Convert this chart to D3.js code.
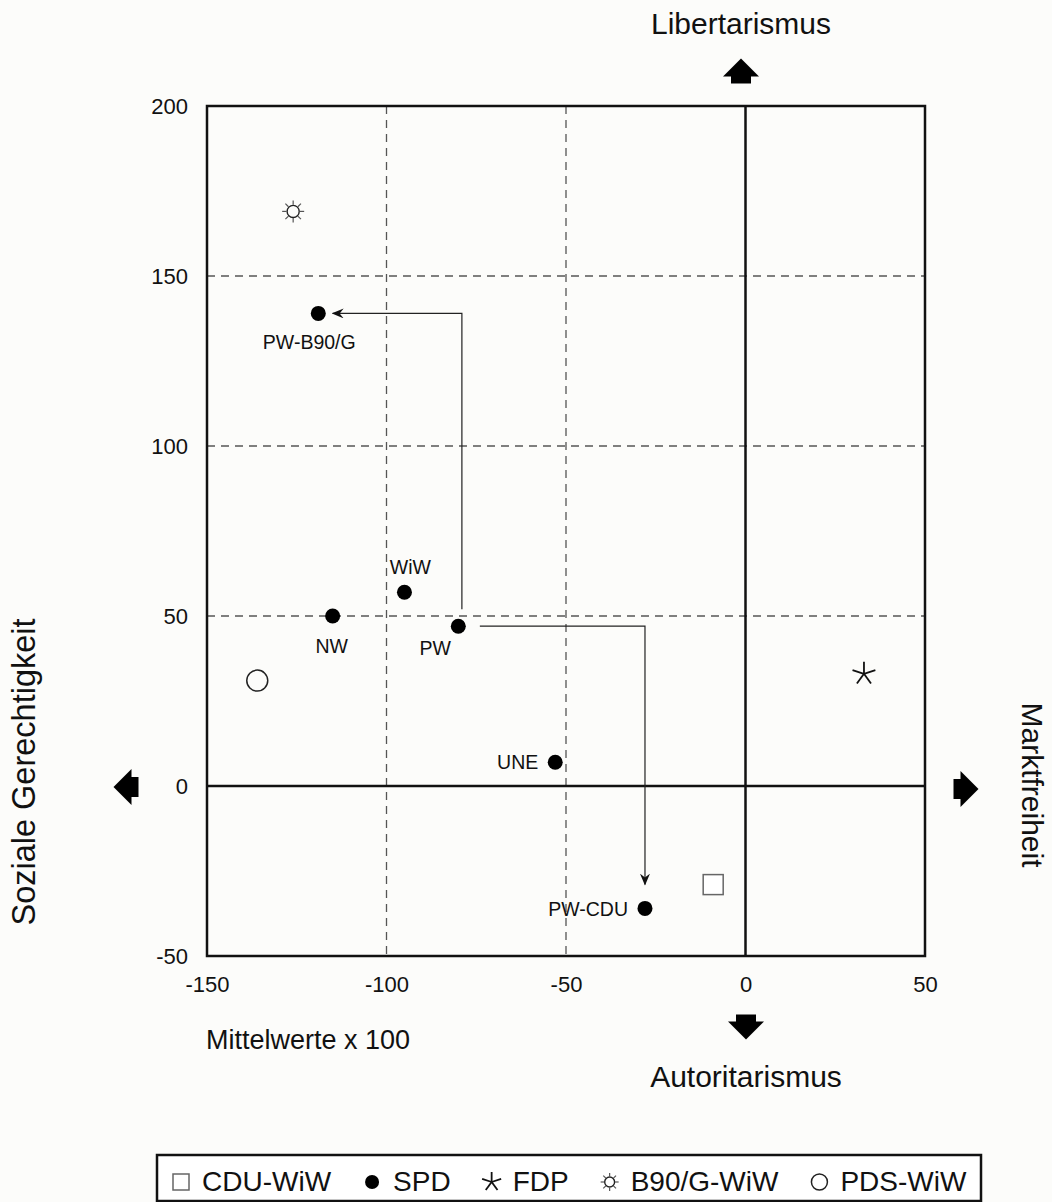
<!DOCTYPE html>
<html>
<head>
<meta charset="utf-8">
<title>Mittelwerte Parteien</title>
<script src="https://cdn.jsdelivr.net/npm/d3@7"></script>
<style>
  body { margin: 0; background: #fcfcfa; }
  svg { display: block; }
  text { font-family: "Liberation Sans", Arial, Helvetica, sans-serif; fill: #111; }
  .grid { stroke: #555; stroke-width: 1.3; stroke-dasharray: 8,6; }
</style>
</head>
<body>
<script>
// --- data (Mittelwerte x 100) ---
var spdLabels = ["PW-B90/G", "WiW", "NW", "PW", "UNE", "PW-CDU"];
var spdX = [-119, -95, -115, -80, -53, -28];
var spdY = [139, 57, 50, 47, 7, -36];

var partyNames = ["CDU-WiW", "SPD", "FDP", "B90/G-WiW", "PDS-WiW"];
var partyX = [-9, null, 33, -126, -136];
var partyY = [-29, null, 33, 169, 31];

// label placement relative to SPD points (pixels)
var labelDx = [-9, 6, -1, -23, -17, -17];
var labelDy = [36, -18, 37, 29, 7, 8];
var labelAnchor = ["middle", "middle", "middle", "middle", "end", "end"];

// shifts shown as elbow arrows, [x, y] in data units
var shiftPW_B90 = [[-79, 52], [-79, 139], [-115, 139]];
var shiftPW_CDU = [[-74, 47], [-28, 47], [-28, -29]];

var xTicks = [-150, -100, -50, 0, 50];
var yTicks = [-50, 0, 50, 100, 150, 200];

var width = 1052, height = 1202;

var svg = d3.select("body").append("svg").attr("width", width).attr("height", height);

var x = d3.scaleLinear().domain([-150, 50]).range([207, 925]);
var y = d3.scaleLinear().domain([-50, 200]).range([956, 106]);

// dashed grid
svg.selectAll(".gx").data([-100, -50]).enter().append("line")
    .attr("class", "grid")
    .attr("x1", d => x(d)).attr("x2", d => x(d)).attr("y1", y(200)).attr("y2", y(-50));
svg.selectAll(".gy").data([50, 100, 150]).enter().append("line")
    .attr("class", "grid")
    .attr("x1", x(-150)).attr("x2", x(50)).attr("y1", d => y(d)).attr("y2", d => y(d));

// zero lines + frame
svg.append("line").attr("x1", x(0)).attr("x2", x(0)).attr("y1", y(200)).attr("y2", y(-50))
    .attr("stroke", "#111").attr("stroke-width", 2.5);
svg.append("line").attr("x1", x(-150)).attr("x2", x(50)).attr("y1", y(0)).attr("y2", y(0))
    .attr("stroke", "#111").attr("stroke-width", 2.5);
svg.append("rect").attr("x", x(-150)).attr("y", y(200))
    .attr("width", x(50) - x(-150)).attr("height", y(-50) - y(200))
    .attr("fill", "none").attr("stroke", "#111").attr("stroke-width", 2.5);

// axes (plain hyphen for negatives, as in the original)
var fmt = d => String(d);
var yAxis = svg.append("g").attr("transform", "translate(" + x(-150) + ",0)")
    .call(d3.axisLeft(y).tickValues(yTicks).tickSize(0).tickPadding(19).tickFormat(fmt));
var xAxis = svg.append("g").attr("transform", "translate(0," + y(-50) + ")")
    .call(d3.axisBottom(x).tickValues(xTicks).tickSize(0).tickPadding(20).tickFormat(fmt));
[xAxis, yAxis].forEach(function (g) {
    g.select(".domain").remove();
    g.selectAll("text").attr("font-size", 22).attr("fill", "#111")
        .style("font-family", "'Liberation Sans', Arial, sans-serif");
});

// arrowhead
svg.append("defs").append("marker")
    .attr("id", "head").attr("viewBox", "0 0 12 10").attr("refX", 11).attr("refY", 5)
    .attr("markerWidth", 12).attr("markerHeight", 10).attr("markerUnits", "userSpaceOnUse")
    .attr("orient", "auto")
    .append("path").attr("d", "M0,0 L12,5 L0,10 L4,5 Z").attr("fill", "#111");

var elbow = d3.line().x(d => x(d[0])).y(d => y(d[1]));
[shiftPW_B90, shiftPW_CDU].forEach(function (p) {
    svg.append("path").attr("d", elbow(p)).attr("fill", "none")
        .attr("stroke", "#222").attr("stroke-width", 1.2).attr("marker-end", "url(#head)");
});

// symbol painters
function square(g, s) {
    g.append("rect").attr("x", -s / 2).attr("y", -s / 2).attr("width", s).attr("height", s)
        .attr("fill", "#fff").attr("stroke", "#666").attr("stroke-width", 1.5);
}
function dot(g, r) { g.append("circle").attr("r", r).attr("fill", "#000"); }
function ring(g, r) {
    g.append("circle").attr("r", r).attr("fill", "none").attr("stroke", "#222").attr("stroke-width", 1.5);
}
function star(g, r) {
    d3.range(5).forEach(function (i) {
        var a = -Math.PI / 2 + i * 2 * Math.PI / 5;
        g.append("line").attr("x1", 0).attr("y1", 0)
            .attr("x2", r * Math.cos(a)).attr("y2", r * Math.sin(a))
            .attr("stroke", "#111").attr("stroke-width", 1.8);
    });
}
function sun(g, r) {
    g.append("circle").attr("r", r * 0.55).attr("fill", "none").attr("stroke", "#222").attr("stroke-width", 1.4);
    d3.range(8).forEach(function (i) {
        var a = i * Math.PI / 4;
        g.append("line")
            .attr("x1", r * 0.6 * Math.cos(a)).attr("y1", r * 0.6 * Math.sin(a))
            .attr("x2", r * Math.cos(a)).attr("y2", r * Math.sin(a))
            .attr("stroke", "#555").attr("stroke-width", 1.2);
    });
}

// party points
var plotSym = [function (g) { square(g, 20); }, null, function (g) { star(g, 12); },
               function (g) { sun(g, 11); }, function (g) { ring(g, 10.5); }];
partyNames.forEach(function (n, i) {
    if (partyX[i] === null) return;
    var g = svg.append("g").attr("transform", "translate(" + x(partyX[i]) + "," + y(partyY[i]) + ")");
    plotSym[i](g);
});

// SPD points
var spd = svg.selectAll(".spd").data(spdLabels).enter().append("g")
    .attr("class", "spd")
    .attr("transform", (d, i) => "translate(" + x(spdX[i]) + "," + y(spdY[i]) + ")");
spd.append("circle").attr("r", 7.5).attr("fill", "#000");
spd.append("text").text(d => d)
    .attr("x", (d, i) => labelDx[i]).attr("y", (d, i) => labelDy[i])
    .attr("text-anchor", (d, i) => labelAnchor[i]).attr("font-size", 19.5);

// direction arrows
var blockPts = [[0, -12.5], [18, 5.5], [10, 5.5], [10, 12.5], [-10, 12.5], [-10, 5.5], [-18, 5.5]];
function block(cx, cy, rot) {
    svg.append("polygon").attr("points", blockPts.map(p => p.join(",")).join(" "))
        .attr("transform", "translate(" + cx + "," + cy + ") rotate(" + rot + ")").attr("fill", "#000");
}
block(741, 71, 0);
block(746, 1027, 180);
block(126, 787, -90);
block(966, 789, 90);

svg.append("text").text("Libertarismus").attr("x", 741).attr("y", 34)
    .attr("text-anchor", "middle").attr("font-size", 30);
svg.append("text").text("Autoritarismus").attr("x", 746).attr("y", 1087)
    .attr("text-anchor", "middle").attr("font-size", 30);
svg.append("text").text("Soziale Gerechtigkeit")
    .attr("transform", "translate(35,772) rotate(-90)")
    .attr("text-anchor", "middle").attr("font-size", 32.5);
svg.append("text").text("Marktfreiheit")
    .attr("transform", "translate(1022,785) rotate(90)")
    .attr("text-anchor", "middle").attr("font-size", 30);
svg.append("text").text("Mittelwerte x 100").attr("x", 206).attr("y", 1049).attr("font-size", 27);

// legend
var legSym = [function (g) { square(g, 16); }, function (g) { dot(g, 7); }, function (g) { star(g, 10); },
              function (g) { sun(g, 9); }, function (g) { ring(g, 8); }];
var legend = svg.append("g");
legend.append("rect").attr("x", 157).attr("y", 1155).attr("width", 824).attr("height", 46)
    .attr("fill", "#fff").attr("stroke", "#111").attr("stroke-width", 2.5);
var cursor = 181;
partyNames.forEach(function (n, i) {
    var g = legend.append("g").attr("transform", "translate(" + cursor + ",1182)");
    legSym[i](g);
    var t = legend.append("text").text(n).attr("x", cursor + 21).attr("y", 1191).attr("font-size", 28);
    cursor = cursor + 21 + t.node().getComputedTextLength() + 41;
});
</script>
</body>
</html>
